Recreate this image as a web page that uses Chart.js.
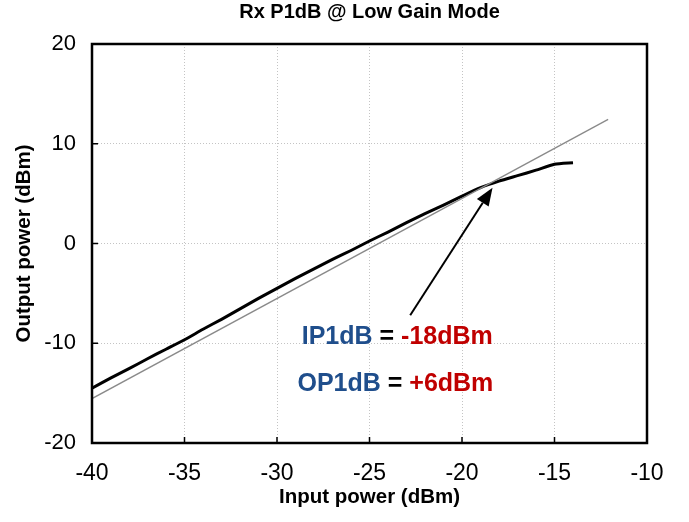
<!DOCTYPE html>
<html>
<head>
<meta charset="utf-8">
<script src="https://cdn.jsdelivr.net/npm/chart.js@4.4.1/dist/chart.umd.min.js"></script>
<style>
  body { margin: 0; background: #fff; }
</style>
</head>
<body>
<canvas id="gp" width="689" height="522"></canvas>
<script>
const ctx = document.getElementById("gp");

// measured curve (input dBm -> output dBm)
const pin = [-40,-39,-38,-37,-36,-35,-34,-33,-32,-31,-30,-29,-28,-27,-26,-25,-24,-23,-22,-21,-20,-19,-18,-17,-16,-15,-14];
const pout = [-14.5,-13.5,-12.55,-11.55,-10.6,-9.65,-8.6,-7.6,-6.55,-5.5,-4.5,-3.5,-2.55,-1.6,-0.7,0.25,1.15,2.1,3.0,3.85,4.75,5.6,6.25,6.8,7.35,7.95,8.1];

// ideal linear gain line
const linIn = [-40, -12.1];
const linOut = [-15.55, 12.45];

// axis ticks
const xTicks = [-40,-35,-30,-25,-20,-15,-10];
const yTicks = [-20,-10,0,10,20];

// arrow (data units): from -> to
const arrowFrom = [-22.8, -7.2];
const arrowTo = [-18.35, 5.6];

// annotation text
const noteX = [-23.5, -23.6];
const noteY = [-9.35, -14.1];
const noteParts = [
    [["IP1dB", "#1F4E8C"], [" = ", "#000"], ["-18dBm", "#C00000"]],
    [["OP1dB", "#1F4E8C"], [" = ", "#000"], ["+6dBm", "#C00000"]],
];

const FONT = "'Liberation Sans', Arial, sans-serif";

const chartData = {
    datasets: [
        {
            label: "linear",
            data: linIn.map((x, i) => ({x: x, y: linOut[i]})),
            borderColor: "#8a8a8a",
            borderWidth: 1.3,
            pointRadius: 0,
            showLine: true,
        },
        {
            label: "measured",
            data: pin.map((x, i) => ({x: x, y: pout[i]})),
            borderColor: "#000",
            borderWidth: 3,
            pointRadius: 0,
            showLine: true,
            tension: 0.2,
        },
    ],
};

// frame, inward ticks, arrow and text
const extras = {
    id: "extras",
    afterDatasetsDraw(chart) {
        const c = chart.ctx;
        const a = chart.chartArea;
        const xs = chart.scales.x, ys = chart.scales.y;
        c.save();
        c.strokeStyle = "#000";
        c.lineWidth = 1.5;
        c.beginPath();
        xTicks.forEach(v => {
            const px = xs.getPixelForValue(v);
            c.moveTo(px, a.bottom);
            c.lineTo(px, a.bottom - 6);
        });
        yTicks.forEach(v => {
            const py = ys.getPixelForValue(v);
            c.moveTo(a.left, py);
            c.lineTo(a.left + 6, py);
        });
        c.stroke();

        c.lineWidth = 2.5;
        c.strokeRect(a.left, a.top, a.right - a.left, a.bottom - a.top);

        // arrow
        const x0 = xs.getPixelForValue(arrowFrom[0]), y0 = ys.getPixelForValue(arrowFrom[1]);
        const x1 = xs.getPixelForValue(arrowTo[0]), y1 = ys.getPixelForValue(arrowTo[1]);
        const ang = Math.atan2(y1 - y0, x1 - x0);
        const hl = 18, hw = 7;
        const bx = x1 - hl * Math.cos(ang), by = y1 - hl * Math.sin(ang);
        c.lineWidth = 2;
        c.beginPath();
        c.moveTo(x0, y0);
        c.lineTo(bx, by);
        c.stroke();
        c.fillStyle = "#000";
        c.beginPath();
        c.moveTo(x1, y1);
        c.lineTo(bx + hw * Math.sin(ang), by - hw * Math.cos(ang));
        c.lineTo(bx - hw * Math.sin(ang), by + hw * Math.cos(ang));
        c.closePath();
        c.fill();

        // notes
        c.font = "bold 25px " + FONT;
        c.textBaseline = "middle";
        c.textAlign = "left";
        noteParts.forEach((parts, i) => {
            const cx = xs.getPixelForValue(noteX[i]);
            const cy = ys.getPixelForValue(noteY[i]);
            const total = parts.reduce((s, p) => s + c.measureText(p[0]).width, 0);
            let px = cx - total / 2;
            parts.forEach(p => {
                c.fillStyle = p[1];
                c.fillText(p[0], px, cy);
                px += c.measureText(p[0]).width;
            });
        });
        c.restore();
    },
};

const chartOptions = {
    responsive: false,
    animation: false,
    devicePixelRatio: 1,
    layout: { padding: { left: 0, right: 42, top: 0, bottom: 0 } },
    plugins: {
        legend: { display: false },
        tooltip: { enabled: false },
        title: {
            display: true,
            text: "Rx P1dB @ Low Gain Mode",
            fullSize: false,
            color: "#000",
            font: { family: FONT, size: 20, weight: "bold" },
            padding: { top: 0, bottom: 20 },
        },
    },
    scales: {
        x: {
            type: "linear",
            min: -40,
            max: -10,
            afterBuildTicks: s => { s.ticks = xTicks.map(v => ({value: v})); },
            afterFit: s => { s.height = 79; },
            ticks: { color: "#000", font: { family: FONT, size: 23 }, padding: 17, maxRotation: 0 },
            grid: { color: "#c4c4c4", lineWidth: 1, drawTicks: false },
            border: { display: false, dash: [1, 2] },
            title: {
                display: true,
                text: "Input power (dBm)",
                color: "#000",
                font: { family: FONT, size: 20.5, weight: "bold" },
                padding: { top: 0, bottom: 12 },
            },
        },
        y: {
            min: -20,
            max: 20,
            afterBuildTicks: s => { s.ticks = yTicks.map(v => ({value: v})); },
            afterFit: s => { s.width = 92; },
            ticks: { color: "#000", font: { family: FONT, size: 22 }, padding: 16 },
            grid: { color: "#c4c4c4", lineWidth: 1, drawTicks: false },
            border: { display: false, dash: [1, 2] },
            title: {
                display: true,
                text: "Output power (dBm)",
                color: "#000",
                font: { family: FONT, size: 20.5, weight: "bold" },
                padding: { top: 12, bottom: 0 },
            },
        },
    },
};

new Chart(ctx, {
    type: "scatter",
    data: chartData,
    options: chartOptions,
    plugins: [extras],
});
</script>
</body>
</html>
